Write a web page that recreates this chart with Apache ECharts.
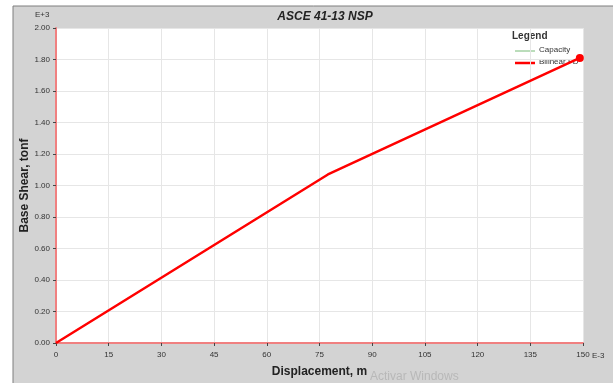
<!DOCTYPE html>
<html><head><meta charset="utf-8">
<script src="https://cdn.jsdelivr.net/npm/echarts@6/dist/echarts.min.js"></script>
<style>html,body{margin:0;padding:0;background:#fff}#c{width:613px;height:383px}</style>
</head><body><div id="c"></div>
<script>
// Data (displacement in E-3 m, base shear in E+3 tonf)
const bilinearX = [0, 77.4, 149.1];
const bilinearY = [0, 1.07, 1.81];
const capacityX = [];
const capacityY = [];
const xTicks = [0, 15, 30, 45, 60, 75, 90, 105, 120, 135, 150];
const yTicks = [0, 0.2, 0.4, 0.6, 0.8, 1.0, 1.2, 1.4, 1.6, 1.8, 2.0];

const font = 'Liberation Sans, Arial, sans-serif';
const chart = echarts.init(document.getElementById('c'));
const bil = bilinearX.map((x, i) => {
  const item = {value: [x, bilinearY[i]]};
  if (i === bilinearX.length - 1) { item.symbol = 'circle'; item.symbolSize = 8; }
  return item;
});
chart.setOption({
  backgroundColor: '#fff',
  animation: false,
  graphic: [
    {type: 'rect', z: -10, shape: {x: 13, y: 6, width: 610, height: 390},
     style: {fill: '#d3d3d3', stroke: '#7f7f7f', lineWidth: 1}},
    {type: 'text', left: 35, top: 11, style: {text: 'E+3', font: '8px ' + font, fill: '#333'}},
    {type: 'text', left: 592, top: 352, style: {text: 'E-3', font: '8px ' + font, fill: '#333'}},
    {type: 'text', left: 512, top: 31, style: {text: 'Legend', font: 'bold 10px ' + font, fill: '#333'}},
    {type: 'line', shape: {x1: 515, y1: 51, x2: 535, y2: 51}, style: {stroke: '#77bb77', lineWidth: 1}},
    {type: 'text', left: 539, top: 46, style: {text: 'Capacity', font: '8px ' + font, fill: '#333'}},
    {type: 'line', shape: {x1: 515, y1: 63, x2: 535, y2: 63}, style: {stroke: '#ff0000', lineWidth: 2.5}},
    {type: 'text', left: 539, top: 58, style: {text: 'Bilinear FD', font: '8px ' + font, fill: '#333'}},
    {type: 'text', left: 370, top: 371, style: {text: 'Activar Windows', font: '12px ' + font, fill: '#b8b8b8'}}
  ],
  title: {text: 'ASCE 41-13 NSP', left: 320, top: 6, textAlign: 'center',
    textStyle: {fontFamily: font, fontSize: 12, fontWeight: 'bold', fontStyle: 'italic', color: '#222'}},
  grid: {left: 56, top: 28, right: 30, bottom: 37, show: true, backgroundColor: '#fff', borderWidth: 0},
  xAxis: {type: 'value', min: 0, max: 150, interval: 15,
    name: 'Displacement, m', nameLocation: 'middle', nameGap: 23,
    nameTextStyle: {fontFamily: font, fontSize: 12, fontWeight: 'bold', color: '#222'},
    axisLine: {show: true, onZero: false, lineStyle: {color: '#f08080', width: 2}},
    axisTick: {show: true, length: 3, lineStyle: {color: '#444'}},
    axisLabel: {fontFamily: font, fontSize: 8, color: '#333', margin: 8},
    splitLine: {show: true, lineStyle: {color: '#e6e6e6'}}},
  yAxis: {type: 'value', min: 0, max: 2, interval: 0.2,
    name: 'Base Shear, tonf', nameLocation: 'middle', nameGap: 25, nameMoveOverlap: false,
    nameTextStyle: {fontFamily: font, fontSize: 12, fontWeight: 'bold', color: '#222'},
    axisLine: {show: true, onZero: false, lineStyle: {color: '#f08080', width: 2}},
    axisTick: {show: true, length: 3, lineStyle: {color: '#444'}},
    axisLabel: {fontFamily: font, fontSize: 8, color: '#333', margin: 6, formatter: v => v.toFixed(2)},
    splitLine: {show: true, lineStyle: {color: '#e6e6e6'}}},
  series: [
    {name: 'Capacity', type: 'line', symbol: 'none', lineStyle: {color: '#77bb77', width: 1},
     data: capacityX.map((x, i) => [x, capacityY[i]])},
    {name: 'Bilinear FD', type: 'line', symbol: 'none', itemStyle: {color: '#ff0000'},
     lineStyle: {color: '#ff0000', width: 2.5}, data: bil, z: 3}
  ]
});
</script></body></html>
